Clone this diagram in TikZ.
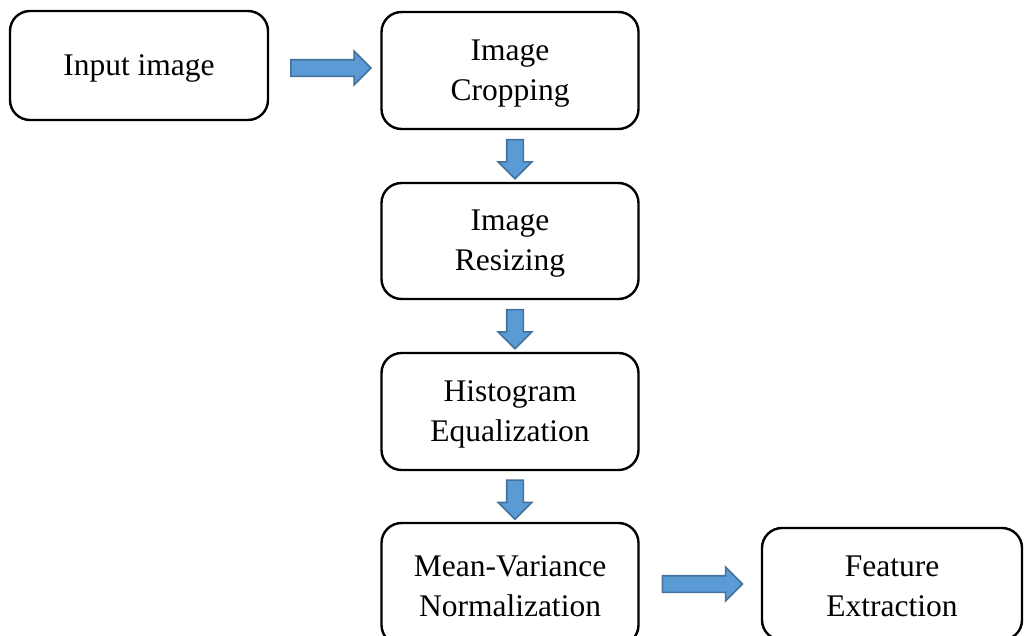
\documentclass[tikz,border=0pt]{standalone}
\usepackage{fontspec}
\setmainfont{Liberation Serif}
\usetikzlibrary{shapes.arrows}
\definecolor{arrowfill}{HTML}{5B9BD5}
\definecolor{arrowline}{HTML}{41719C}
% invisible strut that lowers the box text slightly
\newcommand{\lowertext}{\rule{0pt}{26pt}}
\tikzset{
  stepbox/.style={draw=black, line width=2.4pt, rounded corners=20pt, fill=white,
    align=center, inner sep=0pt, font=\fontsize{31.5}{40}\selectfont},
  blockarrow/.style={single arrow, fill=arrowfill, draw=arrowline, line width=1.6pt,
    inner sep=7.5pt, minimum width=32pt, single arrow head extend=8.5pt,
    single arrow tip angle=90, anchor=center},
}
\begin{document}
\begin{tikzpicture}[x=1pt,y=-1pt]
  \useasboundingbox (0,0) rectangle (1024,635);
  % process boxes
  \node[stepbox, minimum width=258pt, minimum height=109pt] (in) at (139,65.5) {\lowertext Input image};
  \node[stepbox, minimum width=257pt, minimum height=117pt] (crop) at (510,70.5) {\lowertext Image\\Cropping};
  \node[stepbox, minimum width=257pt, minimum height=116pt] (resize) at (510,241) {\lowertext Image\\Resizing};
  \node[stepbox, minimum width=257pt, minimum height=117pt] (hist) at (510,411.5) {\lowertext Histogram\\Equalization};
  \node[stepbox, minimum width=257pt, minimum height=122pt] (mvn) at (510,584) {\lowertext Mean-Variance\\Normalization};
  \node[stepbox, minimum width=260pt, minimum height=112pt] (feat) at (892,584) {\lowertext Feature\\Extraction};
  % block arrows between the boxes
  \path (in.east) -- (crop.west) node[pos=0.5, xshift=2pt, blockarrow, minimum height=80pt] (a1) {};
  \path (crop.south) -- (resize.north) node[pos=0.5, xshift=5pt, yshift=1pt, blockarrow, shape border rotate=270, minimum height=39pt] (a2) {};
  \path (resize.south) -- (hist.north) node[pos=0.5, xshift=5pt, yshift=1pt, blockarrow, shape border rotate=270, minimum height=39pt] (a3) {};
  \path (hist.south) -- (mvn.north) node[pos=0.5, xshift=5pt, yshift=1pt, blockarrow, shape border rotate=270, minimum height=39pt] (a4) {};
  \path (mvn.east) -- (feat.west) node[pos=0.5, xshift=-2pt, blockarrow, minimum height=80pt] (a5) {};
\end{tikzpicture}
\end{document}
